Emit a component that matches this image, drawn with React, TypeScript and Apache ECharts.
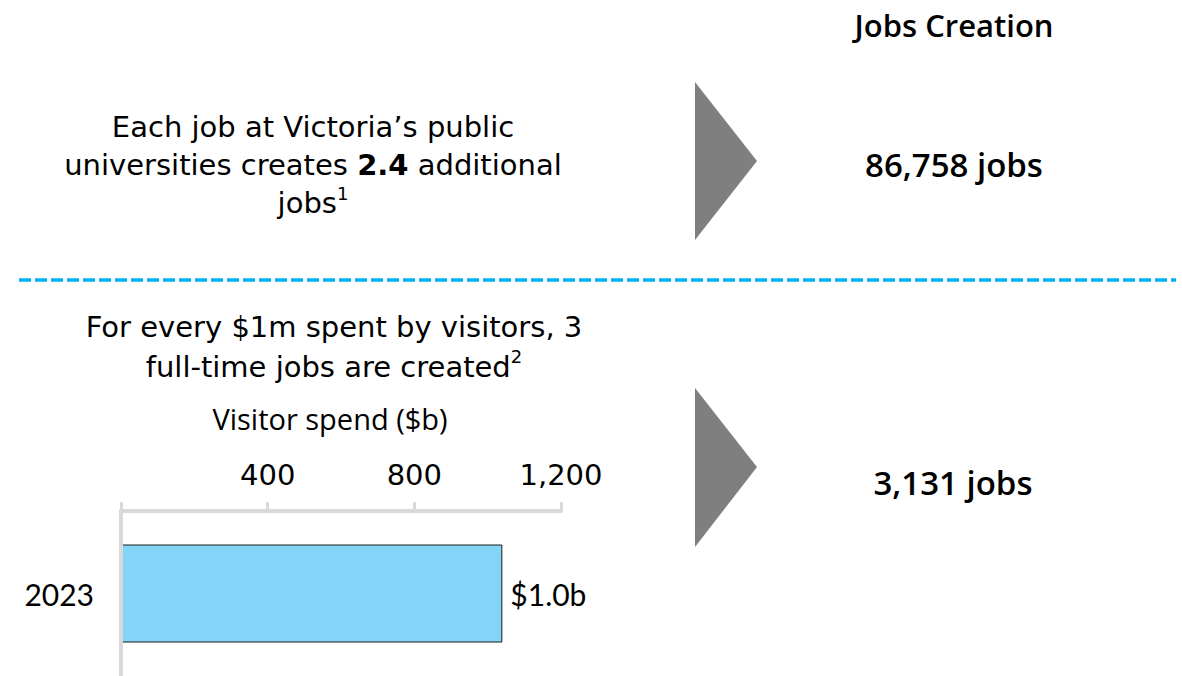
import React, { useEffect, useRef } from "react";
import * as echarts from "echarts";

// ---- data ----
const categories = ["2023"];
const visitorSpend = [1040];
const axisMax = 1200;
const axisInterval = 400;
const jobsUniversities = "86,758 jobs";
const jobsVisitors = "3,131 jobs";
const multiplier = "2.4";

const TEXT_FONT = "'Open Sans', Lato, sans-serif";
const PARA_FONT = "'DejaVu Sans', 'Open Sans', sans-serif";
const NUM_FONT = "Lato, 'Open Sans', sans-serif";
const TICK_FONT = "'DejaVu Sans', sans-serif";

export default function App() {
  const ref = useRef<HTMLDivElement>(null);

  useEffect(() => {
    if (!ref.current) return;
    const chart = echarts.init(ref.current, null, { renderer: "svg" });

    const txt = (
      text: string,
      x: number,
      y: number,
      size: number,
      weight: any = "normal",
      lineHeight?: number,
      rich?: any,
      family: string = TEXT_FONT
    ) => ({
      type: "text",
      silent: true,
      style: {
        text,
        x,
        y,
        fill: "#000",
        fontFamily: family,
        fontSize: size,
        fontWeight: weight,
        lineHeight,
        align: "center",
        textAlign: "center",
        verticalAlign: "middle",
        textVerticalAlign: "middle",
        rich,
      },
    });

    const makeRich = (lh: number) => ({
      n: { fontSize: 29, fontFamily: PARA_FONT, fill: "#000", lineHeight: lh },
      sup: { fontSize: 18, fontFamily: PARA_FONT, fill: "#000", verticalAlign: "top", lineHeight: 20 },
      b: { fontSize: 29, fontFamily: PARA_FONT, fontWeight: "bold", fill: "#000", lineHeight: lh },
    });

    const option: any = {
      animation: false,
      backgroundColor: "#fff",
      grid: {
        left: 121,
        right: 621,
        top: 511,
        bottom: 0,
        containLabel: false,
        outerBoundsMode: "none",
      },
      xAxis: {
        type: "value",
        position: "top",
        min: 0,
        max: axisMax,
        interval: axisInterval,
        splitLine: { show: false },
        axisLine: { show: true, lineStyle: { color: "#d9d9d9", width: 4 } },
        axisTick: { show: true, length: 9, lineStyle: { color: "#d9d9d9", width: 3 } },
        axisLabel: {
          formatter: (v: number) => (v === 0 ? "" : v.toLocaleString("en-US")),
          fontFamily: TICK_FONT,
          fontSize: 29,
          color: "#000",
          margin: 22,
        },
        name: "Visitor spend ($b)",
        nameLocation: "middle",
        nameGap: 78,
        nameTextStyle: {
          fontFamily: TEXT_FONT,
          fontSize: 29,
          color: "#000",
          padding: [0, 22, 0, 0],
        },
      },
      yAxis: {
        type: "category",
        data: categories,
        z: 3,
        axisLine: { show: true, lineStyle: { color: "#d9d9d9", width: 4 } },
        axisTick: { show: false },
        axisLabel: {
          fontFamily: NUM_FONT,
          fontSize: 30,
          color: "#000",
          margin: 27,
        },
      },
      series: [
        {
          type: "bar",
          data: visitorSpend,
          barWidth: 98,
          itemStyle: { color: "#83D5F7", borderColor: "#1a1a1a", borderWidth: 1 },
          label: {
            show: true,
            position: "right",
            distance: 8,
            formatter: (p: any) => "$" + (p.value / 1000).toFixed(1) + "b",
            fontFamily: NUM_FONT,
            fontSize: 30,
            color: "#000",
          },
        },
      ],
      graphic: [
        txt("Jobs Creation", 954, 25, 31, 600),
        txt(
          "{n|Each job at Victoria\u2019s public}\n{n|universities creates }{b|" +
            multiplier +
            "}{n| additional}\n{n|jobs}{sup|1}",
          313,
          165,
          29,
          "normal",
          38,
          makeRich(38),
          PARA_FONT
        ),
        txt(jobsUniversities, 954, 164, 33, 600),
        {
          type: "polygon",
          silent: true,
          shape: { points: [[695, 82], [757, 161], [695, 240]] },
          style: { fill: "#7f7f7f" },
        },
        {
          type: "line",
          silent: true,
          shape: { x1: 19, y1: 280, x2: 1176, y2: 280 },
          style: { stroke: "#00B0F0", lineWidth: 3.5, lineDash: [12, 4] },
        },
        txt(
          "{n|For every $1m spent by visitors, 3}\n{n|full-time jobs are created}{sup|2}",
          334,
          347,
          29,
          "normal",
          40,
          makeRich(40),
          PARA_FONT
        ),
        {
          type: "polygon",
          silent: true,
          shape: { points: [[695, 388], [757, 467], [695, 547]] },
          style: { fill: "#7f7f7f" },
        },
        txt(jobsVisitors, 953, 482, 33, 600),
      ],
    };

    chart.setOption(option);
    return () => chart.dispose();
  }, []);

  return (
    <div
      ref={ref}
      style={{ position: "absolute", left: 0, top: 0, width: 1182, height: 676 }}
    />
  );
}
